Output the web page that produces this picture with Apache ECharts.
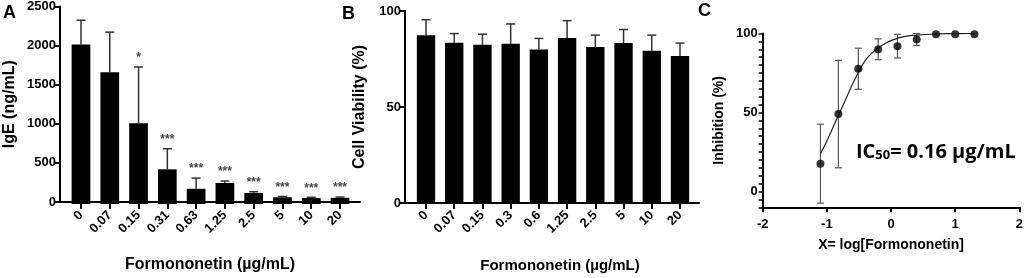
<!DOCTYPE html>
<html>
<head>
<meta charset="utf-8">
<script src="https://cdn.jsdelivr.net/npm/echarts@6/dist/echarts.min.js"></script>
<style>
  html, body { margin: 0; padding: 0; background: #fff; }
  #main { width: 1026px; height: 278px; }
</style>
</head>
<body>
<div id="main"></div>
<script>
// A: IgE
const concA = ['0', '0.07', '0.15', '0.31', '0.63', '1.25', '2.5', '5', '10', '20'];
const igeMean = [2015, 1665, 1020, 438, 192, 265, 140, 85, 75, 78];
const igeSd = [305, 505, 710, 260, 135, 25, 15, 10, 10, 10];
const igeSig = ['', '', '*', '***', '***', '***', '***', '***', '***', '***'];

// B: cell viability
const concB = ['0', '0.07', '0.15', '0.3', '0.6', '1.25', '2.5', '5', '10', '20'];
const viabMean = [87.5, 83.5, 82.5, 83, 80, 86, 81.3, 83.4, 79.4, 76.7];
const viabSd = [8, 4.8, 5.5, 10.3, 5.8, 9, 6.2, 7, 8.1, 6.7];

// C: inhibition vs log conc
const logConc = [-1.1, -0.82, -0.51, -0.2, 0.1, 0.4, 0.7, 1.0, 1.3];
const inhib = [17.6, 49, 77.7, 90, 92, 96.2, 99.6, 99.6, 99.6];
const inhibSd = [25, 34, 13, 6.6, 7.5, 3.8, 0, 0, 0];
const fitX = [-1.1, -1.0, -0.9, -0.8, -0.7, -0.6, -0.5, -0.4, -0.3, -0.2, -0.1, 0, 0.2, 0.4, 0.7, 1.0, 1.3];
const fitY = [24, 32, 41, 50, 59, 68, 76, 83, 87.5, 91, 93.5, 95.5, 98, 99, 99.7, 99.9, 100];
const cMajor = [0, 50, 100];

const FONT = '"Liberation Sans", Arial, sans-serif';
const chart = echarts.init(document.getElementById('main'));

// upper error bar + significance text above it
function upperErr (sigs) {
  return function (params, api) {
    const i = api.value(0);
    const lo = api.coord([i, api.value(1)]);
    const hi = api.coord([i, api.value(2)]);
    const w = 4.5;
    const st = { stroke: '#333', lineWidth: 1.5 };
    const children = [
      { type: 'line', shape: { x1: lo[0], y1: lo[1], x2: hi[0], y2: hi[1] }, style: st },
      { type: 'line', shape: { x1: hi[0] - w, y1: hi[1], x2: hi[0] + w, y2: hi[1] }, style: st }
    ];
    if (sigs && sigs[params.dataIndex]) {
      children.push({
        type: 'text', x: hi[0], y: hi[1] - 3,
        style: { text: sigs[params.dataIndex], fill: '#444', font: 'bold 12px ' + FONT, align: 'center', verticalAlign: 'bottom' }
      });
    }
    return { type: 'group', children: children };
  };
}

function bothErr (params, api) {
  const x = api.value(0), y = api.value(1), sd = api.value(2);
  if (!sd) return null;
  const lo = api.coord([x, y - sd]);
  const hi = api.coord([x, y + sd]);
  const w = 3.5;
  const st = { stroke: '#555', lineWidth: 1.2 };
  return {
    type: 'group',
    children: [
      { type: 'line', shape: { x1: lo[0], y1: lo[1], x2: hi[0], y2: hi[1] }, style: st },
      { type: 'line', shape: { x1: hi[0] - w, y1: hi[1], x2: hi[0] + w, y2: hi[1] }, style: st },
      { type: 'line', shape: { x1: lo[0] - w, y1: lo[1], x2: lo[0] + w, y2: lo[1] }, style: st }
    ]
  };
}

const axisBlack = { show: true, onZero: false, lineStyle: { color: '#000', width: 2 } };
const labelBold = { color: '#000', fontWeight: 'bold', fontFamily: FONT };
const plain = function (v) { return String(v); };

function catAxis (grid, data) {
  return {
    type: 'category', gridIndex: grid, data: data,
    axisLine: { show: false },
    axisTick: { show: true, alignWithLabel: true, length: 5, lineStyle: { color: '#000', width: 2 } },
    axisLabel: Object.assign({ rotate: 45, fontSize: 13, margin: 9, interval: 0 }, labelBold)
  };
}
function frameX (grid, name, size, pad) {
  return {
    type: 'value', gridIndex: grid, min: 0, max: 1,
    axisLine: axisBlack, axisTick: { show: false }, axisLabel: { show: false }, splitLine: { show: false },
    name: name, nameLocation: 'middle', nameGap: 55,
    nameTextStyle: { color: '#000', fontWeight: 'bold', fontSize: size, fontFamily: FONT, padding: pad }
  };
}
function valY (grid, min, max, interval, name, gap, size) {
  return {
    type: 'value', gridIndex: grid, min: min, max: max, interval: interval,
    axisLine: axisBlack,
    axisTick: { show: true, length: 5, lineStyle: { color: '#000', width: 2 } },
    axisLabel: Object.assign({ fontSize: 13, margin: 4, formatter: plain }, labelBold),
    splitLine: { show: false },
    name: name, nameLocation: 'middle', nameGap: gap,
    nameTextStyle: { color: '#000', fontWeight: 'bold', fontSize: size, fontFamily: FONT }
  };
}
function hiddenY (grid, min, max) {
  return { type: 'value', gridIndex: grid, min: min, max: max, show: false };
}

const option = {
  animation: false,
  textStyle: { fontFamily: FONT },
  grid: [
    { left: 66.6, top: 6, width: 287.8, height: 198 },
    { left: 60, top: 6, width: 300, height: 198 },
    { left: 411.9, top: 11, width: 282.2, height: 193 },
    { left: 405, top: 11, width: 294, height: 193 },
    { left: 762.7, top: 33.5, width: 260, height: 173.8 }
  ],
  xAxis: [
    catAxis(0, concA),
    frameX(1, 'Formononetin (µg/mL)', 16, [0, 0, 0, 0]),
    catAxis(2, concB),
    frameX(3, 'Formononetin (µg/mL)', 15, [0, 0, 0, 16]),
    {
      type: 'value', gridIndex: 4, min: -2, max: 2, interval: 1,
      axisLine: axisBlack,
      axisTick: { show: true, length: 5, lineStyle: { color: '#000', width: 2 } },
      axisLabel: Object.assign({ fontSize: 13, margin: 11, formatter: plain }, labelBold),
      splitLine: { show: false },
      name: 'X= log[Formononetin]', nameLocation: 'middle', nameGap: 31,
      nameTextStyle: { color: '#000', fontWeight: 'bold', fontSize: 14, fontFamily: FONT }
    }
  ],
  yAxis: [
    hiddenY(0, 0, 2500),
    valY(1, 0, 2500, 500, 'IgE (ng/mL)', 42, 16),
    hiddenY(2, 0, 100),
    valY(3, 0, 100, 50, 'Cell Viability (%)', 37, 16),
    Object.assign(valY(4, -10, 100, 5, 'Inhibition (%)', 37, 14), {
      axisTick: { show: true, length: 4, lineStyle: { color: '#000', width: 1.5 } },
      axisLabel: Object.assign({
        fontSize: 13, margin: 5,
        formatter: function (v) { return cMajor.indexOf(v) >= 0 ? String(v) : ''; }
      }, labelBold)
    })
  ],
  graphic: [
    { type: 'text', left: 3, top: 4, style: { text: 'A', font: 'bold 18px ' + FONT, fill: '#000' } },
    { type: 'text', left: 342, top: 5, style: { text: 'B', font: 'bold 18px ' + FONT, fill: '#000' } },
    { type: 'text', left: 698, top: 2, style: { text: 'C', font: 'bold 18px ' + FONT, fill: '#000' } },
    {
      type: 'text', left: 856, top: 140,
      style: {
        text: '{a|IC}{s|50}{a|= 0.16 µg/mL}',
        fill: '#000',
        rich: {
          a: { fontSize: 20, fontWeight: 'bold', fontFamily: '"Open Sans", sans-serif', lineHeight: 22, verticalAlign: 'bottom' },
          s: { fontSize: 13, fontWeight: 'bold', fontFamily: '"Open Sans", sans-serif', lineHeight: 13, padding: [9, 0, 0, 0], verticalAlign: 'bottom' }
        }
      }
    }
  ],
  series: [
    {
      type: 'bar', xAxisIndex: 0, yAxisIndex: 0, data: igeMean, barWidth: '65%',
      itemStyle: { color: '#000' }
    },
    {
      type: 'custom', xAxisIndex: 0, yAxisIndex: 0,
      renderItem: upperErr(igeSig),
      data: igeMean.map(function (m, i) { return [i, m, m + igeSd[i]]; }),
      z: 3
    },
    {
      type: 'bar', xAxisIndex: 2, yAxisIndex: 2, data: viabMean, barWidth: '65%',
      itemStyle: { color: '#000' }
    },
    {
      type: 'custom', xAxisIndex: 2, yAxisIndex: 2,
      renderItem: upperErr(null),
      data: viabMean.map(function (m, i) { return [i, m, m + viabSd[i]]; }),
      z: 3
    },
    {
      type: 'line', xAxisIndex: 4, yAxisIndex: 4, smooth: true, showSymbol: false,
      lineStyle: { color: '#222', width: 1.2 },
      data: fitX.map(function (x, i) { return [x, fitY[i]]; })
    },
    {
      type: 'custom', xAxisIndex: 4, yAxisIndex: 4, renderItem: bothErr,
      data: logConc.map(function (x, i) { return [x, inhib[i], inhibSd[i]]; }),
      z: 3
    },
    {
      type: 'scatter', xAxisIndex: 4, yAxisIndex: 4, symbolSize: 8,
      itemStyle: { color: '#000' },
      data: logConc.map(function (x, i) { return [x, inhib[i]]; }),
      z: 4
    }
  ]
};
chart.setOption(option);
</script>
</body>
</html>
